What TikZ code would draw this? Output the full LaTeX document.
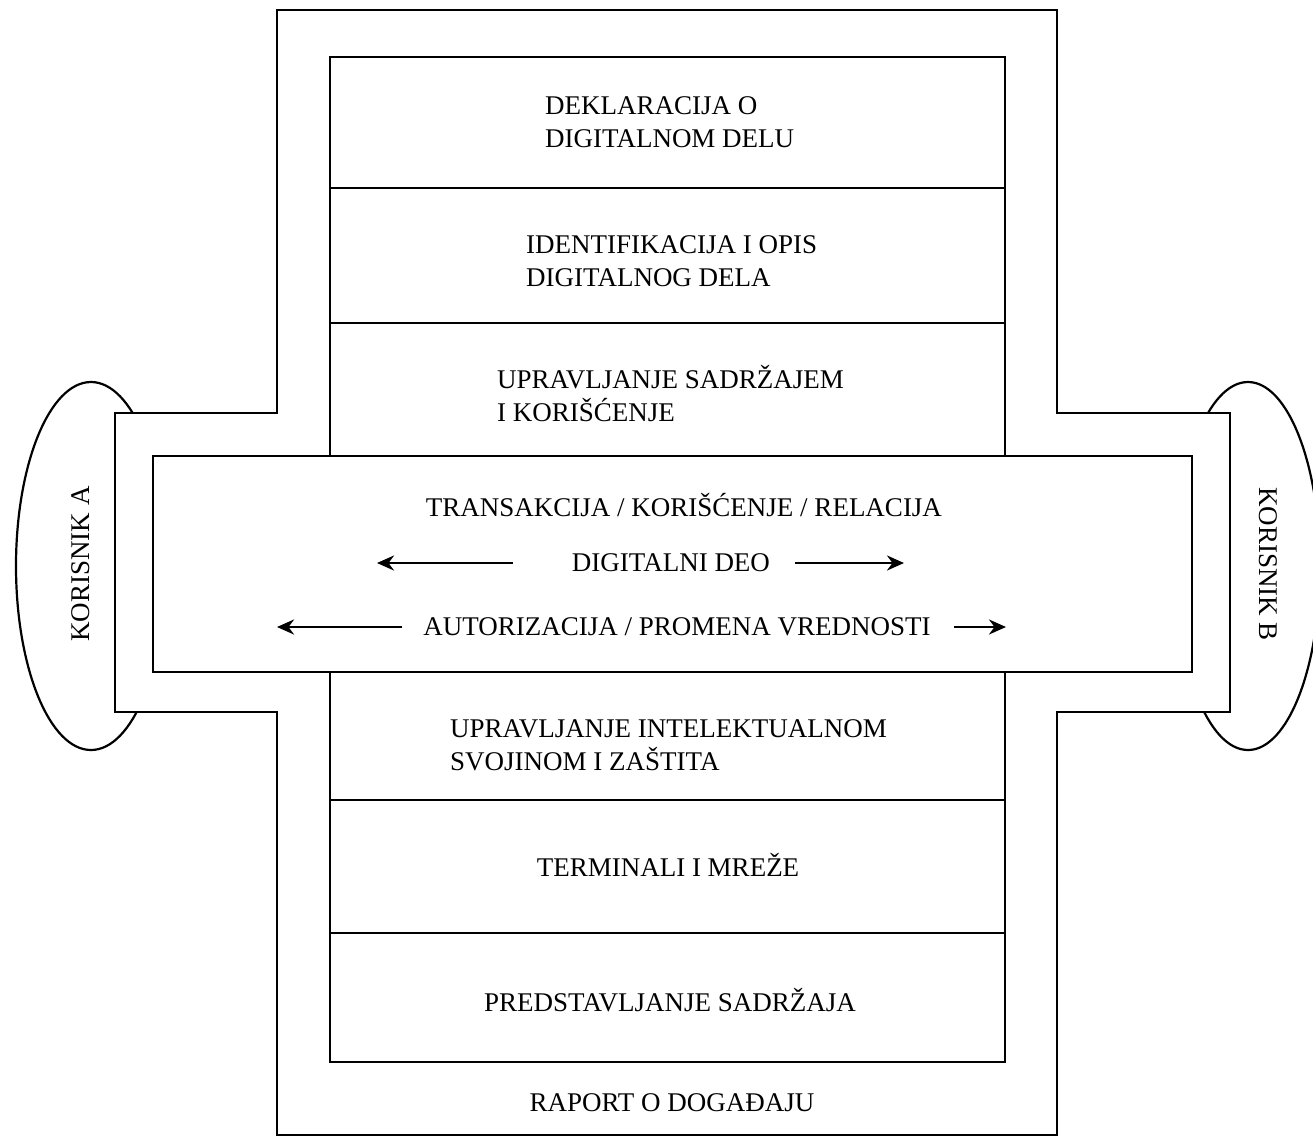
\documentclass[tikz,border=0pt]{standalone}
\usepackage{fontspec}
\setmainfont{Liberation Serif}
\usetikzlibrary{arrows.meta}
\tikzset{
  frame/.style={draw=black, line width=2.8pt, fill=white, line join=miter},
  cell/.style={draw=black, line width=2.8pt},
  lbl/.style={inner sep=0pt, font=\fontsize{27}{33}\selectfont, text=black},
  lbll/.style={lbl, align=left, anchor=west},
  flow/.style={line width=2.8pt, -{Stealth[length=17pt,width=15pt]}}
}
\begin{document}
\begin{tikzpicture}[x=1pt,y=-1pt]
\useasboundingbox (0,0) rectangle (1313,1138);
% users
\draw[frame, line width=2.2pt] (91,566) ellipse [x radius=75, y radius=184];
\draw[frame, line width=2.2pt] (1248,566) ellipse [x radius=72, y radius=184];
% cross frame
\draw[frame] (277,10) -- (1057,10) -- (1057,413) -- (1230,413) -- (1230,712)
  -- (1057,712) -- (1057,1135) -- (277,1135) -- (277,712) -- (115,712)
  -- (115,413) -- (277,413) -- cycle;
% stack upper part
\draw[cell] (330,456) -- (330,57) -- (1005,57) -- (1005,456);
\draw[cell] (330,188) -- (1005,188);
\draw[cell] (330,323) -- (1005,323);
% stack lower part
\draw[cell] (330,672) -- (330,1062) -- (1005,1062) -- (1005,672);
\draw[cell] (330,800) -- (1005,800);
\draw[cell] (330,933) -- (1005,933);
% central band
\draw[frame] (153,456) rectangle (1192,672);
% labels
\node[lbll] (dekl) at (545,122) {DEKLARACIJA O\\DIGITALNOM DELU};
\node[lbll] (ident) at (526,261) {IDENTIFIKACIJA I OPIS\\DIGITALNOG DELA};
\node[lbll] (uprs) at (497,394) {UPRAVLJANJE SADRŽAJEM\\I KORIŠĆENJE};
\node[lbl] (trans) at (684,505) {TRANSAKCIJA / KORIŠĆENJE / RELACIJA};
\node[lbl] (deo) at (671,563) {DIGITALNI DEO};
\node[lbl] (auto) at (677,627) {AUTORIZACIJA / PROMENA VREDNOSTI};
\node[lbll] (upri) at (450,745) {UPRAVLJANJE INTELEKTUALNOM\\SVOJINOM I ZAŠTITA};
\node[lbl] (term) at (668,865) {TERMINALI I MREŽE};
\node[lbl] (pred) at (670,1000) {PREDSTAVLJANJE SADRŽAJA};
\node[lbl] (rap) at (672,1103) {RAPORT O DOGAĐAJU};
\node[lbl, rotate=90] (ka) at (81,564) {KORISNIK A};
\node[lbl, rotate=-90] (kb) at (1268,564) {KORISNIK B};
% arrows
\coordinate (d1s) at (513,563); \coordinate (d1e) at (377,563);
\coordinate (d2s) at (795,563); \coordinate (d2e) at (904,563);
\coordinate (a1s) at (402,627); \coordinate (a1e) at (277,627);
\coordinate (a2s) at (954,627); \coordinate (a2e) at (1006,627);
\draw[flow] (d1s) -- (d1e);
\draw[flow] (d2s) -- (d2e);
\draw[flow] (a1s) -- (a1e);
\draw[flow] (a2s) -- (a2e);
\end{tikzpicture}
\end{document}
